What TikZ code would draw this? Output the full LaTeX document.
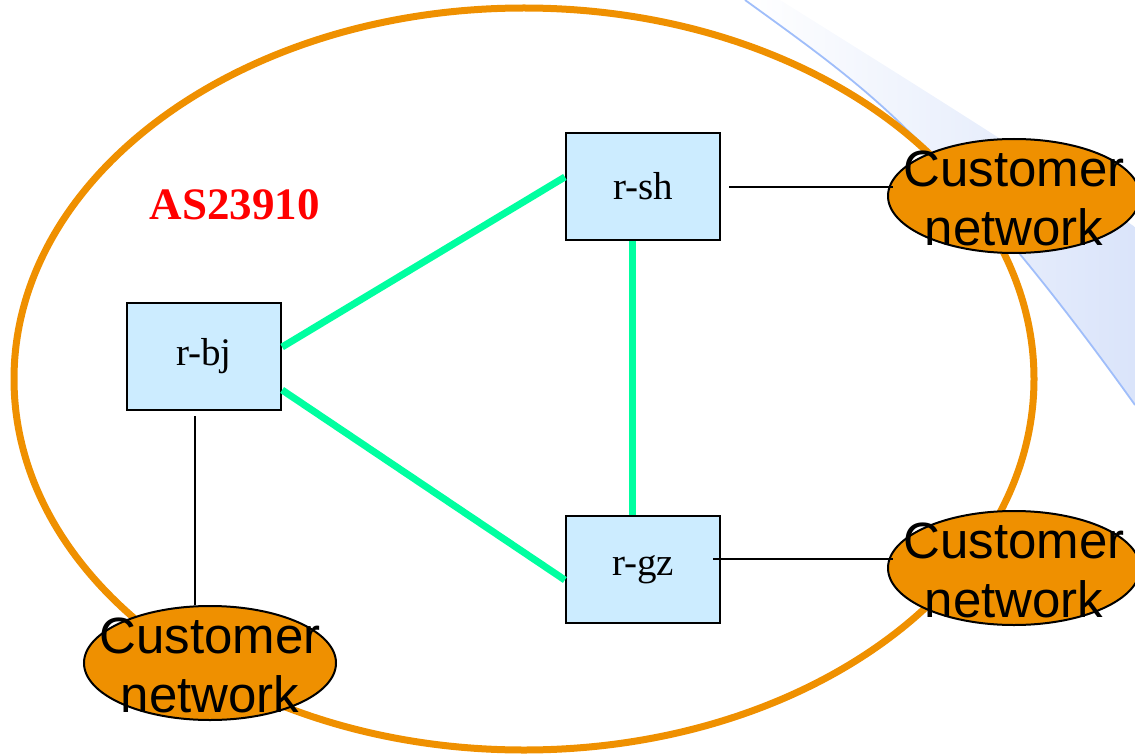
\documentclass[tikz,border=0pt]{standalone}
\usepackage{fontspec}
\setmainfont{Liberation Serif}
\newfontfamily\arialf{Liberation Sans}
\usetikzlibrary{shapes.geometric}
\definecolor{asorange}{RGB}{239,144,0}
\definecolor{linkgreen}{RGB}{0,255,160}
\definecolor{boxblue}{RGB}{204,236,255}
\definecolor{bgline}{RGB}{160,190,250}
\definecolor{bgshade}{RGB}{218,228,250}
\tikzset{
  router/.style={draw=black, line width=2.2pt, fill=boxblue, minimum width=154pt, minimum height=107pt, inner sep=0pt, font=\fontsize{39}{44}\selectfont},
  custnet/.style={ellipse, draw=black, line width=2pt, fill=asorange, minimum width=252pt, minimum height=114pt, inner sep=0pt},
  custtext/.style={align=center, inner sep=0pt, font=\arialf\fontsize{51}{59}\selectfont},
  greenlink/.style={linkgreen, line width=7pt},
  thinlink/.style={black, line width=2pt},
}
\begin{document}
\begin{tikzpicture}[x=1pt,y=-1pt]
\useasboundingbox (0,0) rectangle (1135,754);
% background decoration
\shade[left color=white, right color=bgshade]
  (745,0) -- (780,0) .. controls (900,75) and (1020,150) .. (1135,227) -- (1135,405)
  .. controls (1060,300) and (980,200) .. (900,123) .. controls (850,75) and (800,40) .. (745,0) -- cycle;
\draw[bgline, line width=1.8pt] (1135,405) .. controls (1060,300) and (980,200) .. (900,123) .. controls (850,75) and (800,40) .. (745,0);
% AS boundary
\draw[asorange, line width=7pt] (524,379) ellipse [x radius=510, y radius=371];
\node[text=red, font=\bfseries\fontsize{45}{50}\selectfont, inner sep=0pt] (asname) at (235,205) {AS23910};
% routers
\node[router] (rsh) at (643,186.5) {r-sh};
\node[router] (rbj) at (204,356.5) {r-bj};
\node[router] (rgz) at (643,569.5) {r-gz};
% customer networks
\node[custnet] (cn1) at (1014,196) {};
\node[custnet] (cn2) at (1014,568) {};
\node[custnet] (cn3) at (210,663) {};
% links
\draw[greenlink] ([yshift=9.5pt]rbj.east) -- ([yshift=9.5pt]rsh.west);
\draw[greenlink] ([yshift=-33.5pt]rbj.east) -- ([yshift=-10.5pt]rgz.west);
\draw[greenlink] ([xshift=-11pt]rsh.south) -- ([xshift=-11pt]rgz.north);
\draw[thinlink] ([xshift=8pt,yshift=-0.5pt]rsh.east) -- ([xshift=6pt,yshift=-0.5pt]rsh.east -| cn1.west);
\draw[thinlink] ([xshift=-8pt,yshift=10.5pt]rgz.east) -- ([xshift=6pt,yshift=10.5pt]rgz.east -| cn2.west);
\draw[thinlink] ([xshift=-9pt,yshift=-5pt]rbj.south) -- ([xshift=-9pt]rbj.south |- cn3.north);
% customer network labels
\node[custtext] (cn1t) at ([yshift=-2pt]cn1) {Customer\\network};
\node[custtext] (cn2t) at ([yshift=-2pt]cn2) {Customer\\network};
\node[custtext] (cn3t) at ([yshift=-2pt]cn3) {Customer\\network};
\end{tikzpicture}
\end{document}
